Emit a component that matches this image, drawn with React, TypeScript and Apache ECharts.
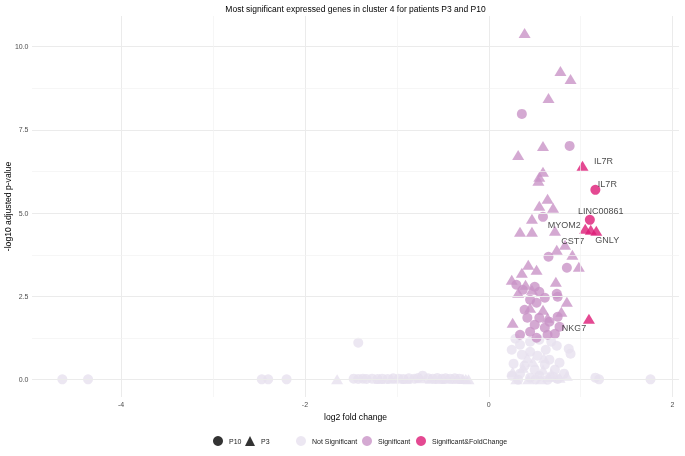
import React, { useEffect, useRef } from "react";
import * as echarts from "echarts";

// ---- data: [log2 fold change, -log10 adjusted p-value] ----
const nsCircle: [number, number][] = [
  [0.29, 1.23], [0.25, 0.9], [0.34, 1.05], [0.45, 1.14], [0.55, 1.2], [0.68, 1.14],
  [0.74, 1.02], [0.87, 0.93], [0.89, 0.78], [0.77, 0.51], [0.82, 0.18], [0.27, 0.48],
  [0.25, 0.12], [0.36, 0.75], [0.45, 0.84], [0.53, 0.72], [0.62, 0.9], [0.66, 0.6],
  [0.39, 0.42], [0.5, 0.3], [0.61, 0.45], [0.72, 0.3], [0.34, 0.18], [0.45, 0.06],
  [0.55, 0.12], [0.64, 0.0], [0.32, 0.0], [0.51, 0.01], [0.7, 0.09], [0.75, 0.02],
  [-1.42, 1.11], [-4.64, 0.01], [-4.36, 0.01], [-2.47, 0.01], [-2.4, 0.01], [-2.2, 0.01],
  [1.16, 0.06], [1.2, 0.01], [1.76, 0.01], [-0.72, 0.12],
  [-1.47, 0.03], [-1.42, 0.02], [-1.37, 0.03], [-1.33, 0.02], [-1.27, 0.03], [-1.21, 0.02],
  [-1.16, 0.03], [-1.1, 0.02], [-1.04, 0.04], [-0.98, 0.03], [-0.93, 0.02], [-0.87, 0.04],
  [-0.81, 0.03], [-0.77, 0.05], [-0.66, 0.04], [-0.61, 0.03], [-0.56, 0.05], [-0.51, 0.03],
  [-0.47, 0.04], [-0.42, 0.03], [-0.37, 0.04], [-0.32, 0.03],
];
const nsTriangle: [number, number][] = [
  [0.26, 0.24], [0.37, 0.36], [0.48, 0.54], [0.59, 0.3], [0.68, 0.18], [0.77, 0.06],
  [0.85, 0.12], [0.3, 0.01], [0.43, 0.01], [0.57, 0.01], [0.65, 0.09], [-1.65, 0.01],
  [-0.22, 0.01], [0.42, 0.66], [0.6, 0.66],
  [-1.19, 0.02], [-1.06, 0.03], [-0.9, 0.02], [-0.74, 0.04], [-0.63, 0.03], [-0.53, 0.02],
  [-0.45, 0.03], [-0.34, 0.02], [-0.28, 0.03], [-0.25, 0.02],
];
const sigCircle: [number, number][] = [
  [0.36, 7.98], [0.88, 7.02], [0.59, 4.89], [0.65, 3.69], [0.85, 3.36], [0.74, 2.58],
  [0.3, 2.85], [0.37, 2.7], [0.5, 2.79], [0.55, 2.64], [0.45, 2.4], [0.52, 2.31],
  [0.61, 2.46], [0.39, 2.1], [0.42, 1.86], [0.55, 1.86], [0.66, 1.74], [0.5, 1.65],
  [0.61, 1.56], [0.75, 1.89], [0.77, 1.59], [0.45, 1.44], [0.64, 1.35], [0.52, 1.26],
  [0.72, 1.38], [0.34, 1.35], [0.75, 2.49],
];
const sigTriangle: [number, number][] = [
  [0.39, 10.41], [0.78, 9.27], [0.89, 9.03], [0.65, 8.46], [0.59, 7.02], [0.32, 6.75],
  [0.59, 6.24], [0.55, 6.09], [0.54, 5.97], [0.64, 5.43], [0.55, 5.22], [0.7, 5.16],
  [0.47, 4.83], [0.34, 4.44], [0.47, 4.44], [0.72, 4.47], [0.74, 3.9], [0.83, 4.05],
  [0.91, 3.75], [0.98, 3.39], [0.43, 3.45], [0.36, 3.21], [0.52, 3.3], [0.25, 3.0],
  [0.4, 2.85], [0.73, 2.94], [0.32, 2.61], [0.47, 2.7], [0.85, 2.34], [0.26, 1.71],
  [0.59, 2.1], [0.64, 1.86], [0.45, 2.16], [0.79, 2.04],
];
const sfcCircle: [number, number][] = [[1.16, 5.7], [1.1, 4.8]];
const sfcCircleGenes = ["IL7R", "LINC00861"];
const sfcTriangle: [number, number][] = [[1.02, 6.42], [1.05, 4.53], [1.11, 4.5], [1.17, 4.47], [1.09, 1.83]];
const sfcTriangleGenes = ["IL7R", "MYOM2", "CST7", "GNLY", "NKG7"];

const xTicks = [-4, -2, 0, 2];
const xMinor = [-3, -1, 1];
const yTicks = [0, 2.5, 5, 7.5, 10];
const yMinor = [1.25, 3.75, 6.25, 8.75];

const titleText = "Most significant expressed genes in cluster 4 for patients P3 and P10";
const xTitle = "log2 fold change";
const yTitle = "-log10 adjusted p-value";

// label placement (ggrepel-like), in pixels from the point
const circleLabelOffsets: [number, number][] = [[12, -6], [11, -9]];
const triangleLabelOffsets: [number, number][] = [[21, -5], [-21, -4], [-18, 11], [11, 9], [-15, 9]];

const COL_NS = "#e7e1ef";
const COL_SIG = "#c994c7";
const COL_SFC = "#dd1c77";
const FONT = "'Liberation Sans', Arial, Helvetica, sans-serif";

export default function App() {
  const ref = useRef<HTMLDivElement>(null);
  useEffect(() => {
    const chart = echarts.init(ref.current!, null, { renderer: "svg" });
    const circleSize = 10;
    const triSize = [12, 10];

    const labelled = (
      pts: [number, number][],
      names: string[],
      offs: [number, number][],
      w: number,
      h: number
    ) =>
      pts.map((p, i) => ({
        value: p,
        name: names[i],
        label: {
          show: true,
          formatter: names[i],
          position: [w / 2 + offs[i][0], h / 2 + offs[i][1]],
          align: "center",
          verticalAlign: "middle",
        },
      }));

    const legendItem = (name: string, left: number) => ({
      show: true,
      data: [name],
      left,
      top: 436,
      itemWidth: 10,
      itemHeight: 10,
      itemGap: 0,
      padding: 0,
      selectedMode: false,
      textStyle: { fontSize: 7, color: "#1a1a1a", fontFamily: FONT, padding: [0, 0, 0, 1] },
    });

    const gridLines = [
      ...xTicks.map((v) => ({ xAxis: v })),
      ...yTicks.map((v) => ({ yAxis: v })),
      ...xMinor.map((v) => ({ xAxis: v, lineStyle: { color: "#f2f2f2", width: 0.7, type: "solid" } })),
      ...yMinor.map((v) => ({ yAxis: v, lineStyle: { color: "#f2f2f2", width: 0.7, type: "solid" } })),
    ];

    const labelStyle = {
      fontSize: 9,
      color: "#1a1a1a",
      fontFamily: FONT,
      textBorderWidth: 0,
      textBorderColor: "transparent",
    };

    chart.setOption({
      animation: false,
      textStyle: { fontFamily: FONT },
      grid: { left: 32, right: 6, top: 16, bottom: 59, containLabel: false, outerBoundsMode: "none" },
      graphic: [
        {
          type: "text",
          x: 355.5,
          y: 9,
          style: {
            text: titleText,
            textAlign: "center",
            textVerticalAlign: "middle",
            fontSize: 8.5,
            fontFamily: FONT,
            fill: "#000",
          },
        },
        {
          type: "text",
          x: 8,
          y: 206.5,
          rotation: Math.PI / 2,
          style: {
            text: yTitle,
            textAlign: "center",
            textVerticalAlign: "middle",
            fontSize: 8.6,
            fontFamily: FONT,
            fill: "#000",
          },
        },
      ],
      legend: [
        legendItem("P10", 213),
        legendItem("P3", 245),
        legendItem("Not Significant", 296),
        legendItem("Significant", 362),
        legendItem("Significant&FoldChange", 416),
      ],
      xAxis: {
        type: "value",
        min: -4.97,
        max: 2.07,
        splitLine: { show: false },
        axisLine: { show: false },
        axisTick: { show: false },
        axisLabel: {
          customValues: xTicks,
          fontSize: 7,
          color: "#4d4d4d",
          margin: 4,
          fontFamily: FONT,
          formatter: (v: number) => String(v),
        },
        name: xTitle,
        nameLocation: "middle",
        nameGap: 12,
        nameTextStyle: { fontSize: 8.6, color: "#000", fontFamily: FONT },
      },
      yAxis: {
        type: "value",
        min: -0.52,
        max: 10.92,
        splitLine: { show: false },
        axisLine: { show: false },
        axisTick: { show: false },
        axisLabel: {
          customValues: yTicks,
          fontSize: 7,
          color: "#4d4d4d",
          margin: 3.5,
          fontFamily: FONT,
          formatter: (v: number) => v.toFixed(1),
        },
      },
      series: [
        {
          name: "grid",
          type: "scatter",
          data: [],
          z: 0,
          silent: true,
          markLine: {
            silent: true,
            symbol: ["none", "none"],
            label: { show: false },
            lineStyle: { color: "#ebebeb", width: 1, type: "solid" },
            data: gridLines,
            animation: false,
          },
        },
        { name: "ns-c", type: "scatter", symbol: "circle", symbolSize: circleSize, data: nsCircle, itemStyle: { color: COL_NS }, z: 2 },
        { name: "ns-t", type: "scatter", symbol: "triangle", symbolSize: triSize, data: nsTriangle, itemStyle: { color: COL_NS }, z: 2 },
        { name: "sig-c", type: "scatter", symbol: "circle", symbolSize: circleSize, data: sigCircle, itemStyle: { color: COL_SIG }, z: 3 },
        { name: "sig-t", type: "scatter", symbol: "triangle", symbolSize: triSize, data: sigTriangle, itemStyle: { color: COL_SIG }, z: 3 },
        {
          name: "sfc-c",
          type: "scatter",
          symbol: "circle",
          symbolSize: circleSize,
          data: labelled(sfcCircle, sfcCircleGenes, circleLabelOffsets, circleSize, circleSize),
          itemStyle: { color: COL_SFC },
          label: labelStyle,
          z: 5,
        },
        {
          name: "sfc-t",
          type: "scatter",
          symbol: "triangle",
          symbolSize: triSize,
          data: labelled(sfcTriangle, sfcTriangleGenes, triangleLabelOffsets, triSize[0], triSize[1]),
          itemStyle: { color: COL_SFC },
          label: labelStyle,
          z: 4,
        },
        { name: "P10", type: "scatter", symbol: "circle", data: [], itemStyle: { color: "#000" } },
        { name: "P3", type: "scatter", symbol: "triangle", data: [], itemStyle: { color: "#000" } },
        { name: "Not Significant", type: "scatter", symbol: "circle", data: [], itemStyle: { color: COL_NS } },
        { name: "Significant", type: "scatter", symbol: "circle", data: [], itemStyle: { color: COL_SIG } },
        { name: "Significant&FoldChange", type: "scatter", symbol: "circle", data: [], itemStyle: { color: COL_SFC } },
      ],
    });
    return () => chart.dispose();
  }, []);
  return <div ref={ref} style={{ position: "fixed", left: 0, top: 0, width: 685, height: 456 }} />;
}
